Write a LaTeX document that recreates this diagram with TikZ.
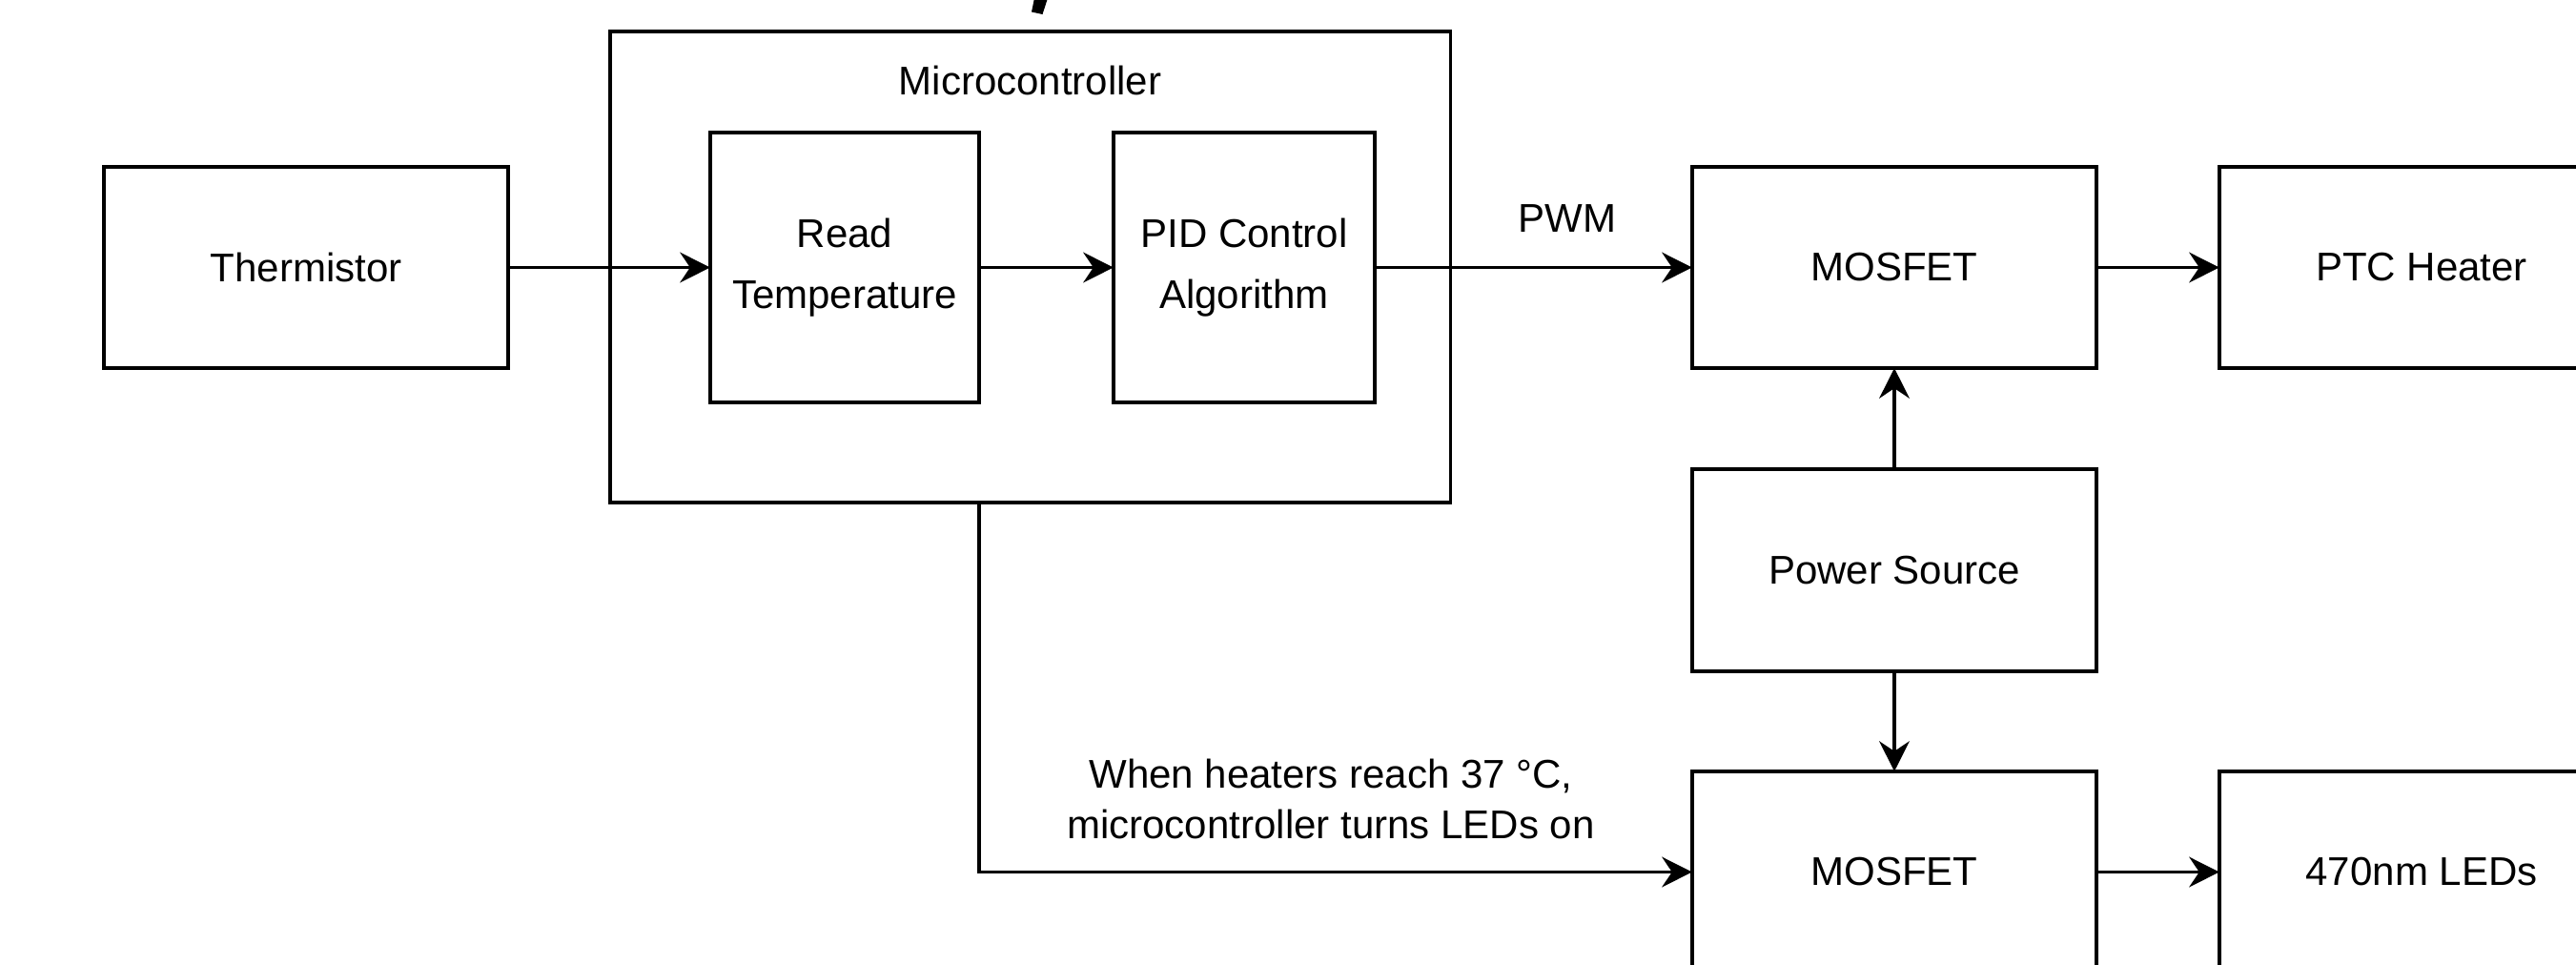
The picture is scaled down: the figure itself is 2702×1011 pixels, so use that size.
\documentclass[tikz,border=0pt]{standalone}
\usepackage{fontspec}
\setmainfont{Liberation Sans}
\usetikzlibrary{arrows.meta}
\begin{document}
\begin{tikzpicture}[x=0.01cm,y=-0.01cm,
  box/.style={draw=black, line width=1pt, inner sep=0pt, outer sep=0pt, align=center,
    font=\fontsize{11.95}{18.2}\selectfont},
  lbl/.style={inner sep=0pt, align=center, font=\fontsize{11.95}{15.1}\selectfont},
  conn/.style={line width=1pt, -{Stealth[length=9pt,width=9pt,inset=3pt]}}]
\useasboundingbox (0,0) rectangle (2702,1011);
\clip (0,0) rectangle (2702,1011);
\fill[white] (0,0) rectangle (2702,1011);

% fragment of a cropped glyph at the top
\fill[black] (1085,-2) -- (1099,-2) -- (1093.5,15) -- (1082,12.5) -- cycle;

% microcontroller outer box
\node[box, minimum width=8.81cm, minimum height=4.94cm] (micro) at (1080.5,280) {};
\node[lbl] (microlbl) at (1080.5,84) {Microcontroller};

\node[box, minimum width=4.24cm, minimum height=2.11cm] (therm) at (321,280.5) {Thermistor};
\node[box, minimum width=2.82cm, minimum height=2.83cm] (read) at (886,280.5) {Read\\Temperature};
\node[box, minimum width=2.74cm, minimum height=2.83cm] (pid) at (1305,280.5) {PID Control\\Algorithm};
\node[box, minimum width=4.24cm, minimum height=2.11cm] (mos1) at (1987,280.5) {MOSFET};
\node[box, minimum width=4.24cm, minimum height=2.11cm] (ptc) at (2540,280.5) {PTC Heater};
\node[box, minimum width=4.24cm, minimum height=2.12cm] (power) at (1987,598) {Power Source};
\node[box, minimum width=4.24cm, minimum height=2.11cm] (mos2) at (1987,914.5) {MOSFET};
\node[box, minimum width=4.24cm, minimum height=2.11cm] (leds) at (2540,914.5) {470nm LEDs};

\node[lbl] (pwm) at (1644,229) {PWM};
\node[lbl] (cond) at (1396,838) {When heaters reach 37 °C,\\microcontroller turns LEDs on};

\coordinate (down) at (read.east |- micro.south);

\draw[conn] (therm) -- (read);
\draw[conn] (read) -- (pid);
\draw[conn] (pid) -- (mos1);
\draw[conn] (mos1) -- (ptc);
\draw[conn] (power) -- (mos1);
\draw[conn] (power) -- (mos2);
\draw[conn] (mos2) -- (leds);
\draw[conn] (down) |- (mos2.west);
\end{tikzpicture}
\end{document}
